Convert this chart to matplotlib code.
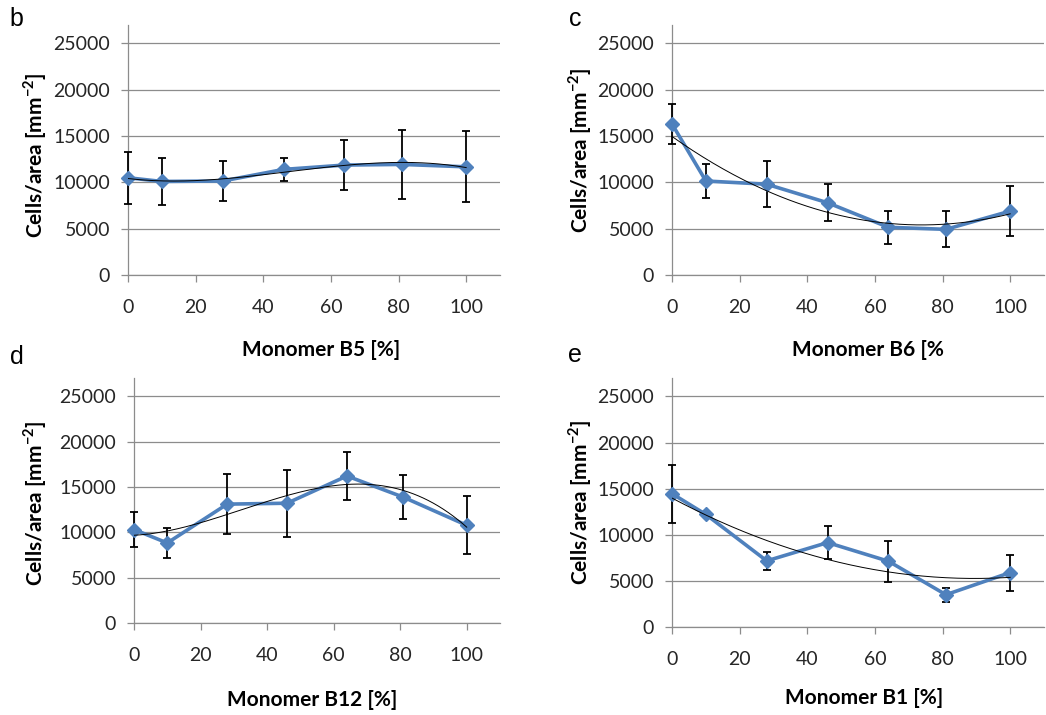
import numpy as np
import matplotlib.pyplot as plt

plt.rcParams['mathtext.fontset'] = 'custom'
plt.rcParams['mathtext.rm'] = 'Lato'
plt.rcParams['mathtext.bf'] = 'Lato:bold'

# monomer content (%) shared by all four series
monomer_pct = [0, 10, 28, 46, 64, 81, 100]

# cell counts per area and their standard deviations
b5_cells = [10500, 10100, 10150, 11400, 11870, 11940, 11680]
b5_err = [2800, 2550, 2200, 1200, 2700, 3700, 3850]

b6_cells = [16300, 10150, 9800, 7800, 5150, 4930, 6900]
b6_err = [2150, 1850, 2500, 2000, 1750, 1950, 2700]

b12_cells = [10300, 8820, 13100, 13200, 16200, 13860, 10770]
b12_err = [1950, 1650, 3300, 3700, 2600, 2400, 3200]

b1_cells = [14450, 12200, 7170, 9150, 7130, 3500, 5900]
b1_err = [3150, 300, 980, 1800, 2200, 770, 1950]

panels = [
    # letter, data, err, x label, fit order, axes rect, label positions
    ('b', b5_cells, b5_err, 'Monomer B5 [%]', 3,
     [0.1224, 0.6154, 0.3556, 0.3497], (0.52, -0.30), (-0.25, 0.48), (0.016, 0.973)),
    ('c', b6_cells, b6_err, 'Monomer B6 [%', 2,
     [0.6425, 0.6154, 0.3556, 0.3497], (0.526, -0.30), (-0.247, 0.50), (0.55, 0.973)),
    ('d', b12_cells, b12_err, 'Monomer B12 [%]', 3,
     [0.1281, 0.1287, 0.3499, 0.3426], (0.486, -0.314), (-0.27, 0.49), (0.016, 0.500)),
    ('e', b1_cells, b1_err, 'Monomer B1 [%]', 2,
     [0.6425, 0.1231, 0.3556, 0.3483], (0.516, -0.285), (-0.247, 0.50), (0.55, 0.503)),
]

blue = '#4F81BD'
grid_col = '#8c8c8c'

fig = plt.figure(figsize=(10.46, 7.15), dpi=100)

for letter, cells, err, xlab, order, rect, xl_pos, yl_pos, letter_pos in panels:
    ax = fig.add_axes(rect)

    eb = ax.errorbar(monomer_pct, cells, yerr=err, fmt='none', ecolor='black',
                     elinewidth=1.3, capsize=3, capthick=1.3, zorder=3)
    for art in eb.lines[1] + eb.lines[2]:
        art.set_clip_on(False)
    ax.plot(monomer_pct, cells, color=blue, lw=2.6, marker='D', ms=7,
            mec=blue, mfc=blue, zorder=4, clip_on=False)

    # polynomial trend line through the means
    coef = np.polyfit(monomer_pct, cells, order)
    xs = np.linspace(0, 100, 200)
    ax.plot(xs, np.polyval(coef, xs), color='black', lw=0.7, zorder=5)

    ax.set_xlim(0, 110)
    ax.set_ylim(0, 27000)
    ax.set_xticks(range(0, 101, 20))
    ax.set_yticks(range(0, 25001, 5000))
    ax.yaxis.grid(True, color=grid_col, lw=0.9)
    ax.set_axisbelow(True)

    for side in ['top', 'right']:
        ax.spines[side].set_visible(False)
    for side in ['left', 'bottom']:
        ax.spines[side].set_color(grid_col)
        ax.spines[side].set_linewidth(0.9)

    ax.tick_params(axis='x', length=5, width=0.9, color=grid_col, pad=12,
                   labelsize=14, labelcolor='#262626')
    ax.tick_params(axis='y', length=5, width=0.9, color=grid_col, pad=8,
                   labelsize=14, labelcolor='#262626')
    for lbl in ax.get_xticklabels() + ax.get_yticklabels():
        lbl.set_family('Lato')

    ax.set_xlabel(xlab, fontsize=15, fontweight='bold', family='Lato')
    ax.xaxis.label.set_va('center')
    ax.xaxis.set_label_coords(*xl_pos)
    ax.set_ylabel('Cells/area [mm$^{\\mathbf{-2}}$]', fontsize=15,
                  fontweight='bold', family='Lato')
    ax.yaxis.label.set_va('center')
    ax.yaxis.set_label_coords(*yl_pos)

    fig.text(letter_pos[0], letter_pos[1], letter, fontsize=18,
             family='Liberation Sans', ha='center', va='center')

fig.savefig('out.png', dpi=100)
